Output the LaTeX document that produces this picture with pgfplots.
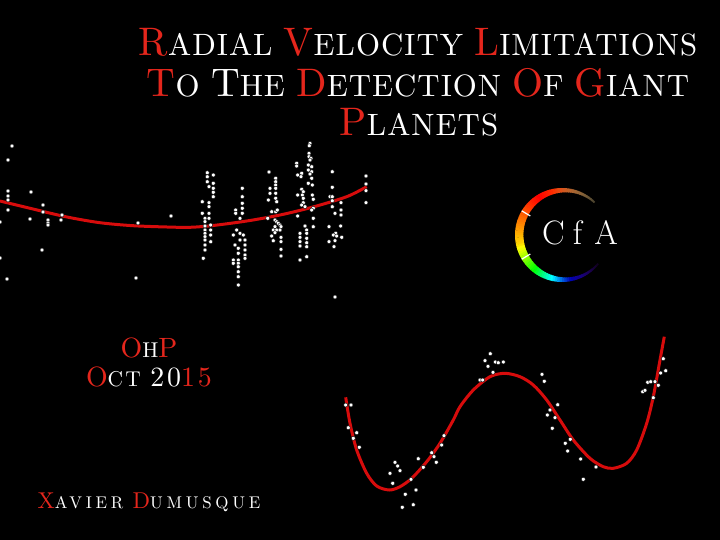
\documentclass[border=0pt]{standalone}
\usepackage{fontspec}
\newfontfamily\fA[LetterSpace=3.3]{lmroman10-regular.otf}
\newfontfamily\fB[LetterSpace=10.5]{lmroman10-regular.otf}
\newfontfamily\fC[LetterSpace=22]{lmroman10-regular.otf}
\usepackage{pgfplots}
\pgfplotsset{compat=1.18}
\definecolor{tred}{RGB}{228,38,28}
\definecolor{cred}{RGB}{215,12,12}
\newcommand\setsz[1]{\fontsize{#1}{#1}\selectfont}
\begin{document}
\begin{tikzpicture}
\path[use as bounding box, fill=black] (0,0) rectangle (720bp,540bp);
\begin{axis}[at={(0,0)}, anchor=south west, scale only axis, width=720bp, height=540bp,
  xmin=0, xmax=720, ymin=0, ymax=540, y dir=reverse, hide axis, clip=true]
% top curve
\addplot[cred, line width=3bp, smooth] coordinates {
(0,201) (33,209) (67,217) (100,222.7) (133,225.7) (167,227) (190,227.3) (213,225.5)
(246.7,221) (280,215) (313,207) (346.7,196.7) (366.7,186.7)};
% top scatter
\addplot[only marks, mark=*, mark size=2bp, mark options={fill=white, draw=none}] coordinates {
(12,146) (8,160) (8,191) (8,196) (8,200) (8,210) (31,192) (30,219) (43,205) (43,212)
(48,220) (48,223) (48,225) (62,215) (61,220) (42,250) (7,279) (0,222) (0,258)
(138,223) (136,278) (171,216) (335,297)
(207.3,172.7) (207.3,176.7) (213.3,175) (207.3,181.7) (209,186.7) (213.3,183.3) (213.3,188.3)
(213.3,192.3) (213.3,196.7) (202.3,201.7) (209,202.7) (209,206.7) (202.3,213.3) (205,218.3)
(209,213.3) (209,218.3) (205,221.7) (210.7,225) (205,226) (205,230) (205,233.3) (205,236.7)
(210.7,230) (210.7,235) (205,240) (205,245) (205,250) (210.7,241.7) (203.3,258.3)
(242.3,188.3) (235.7,210) (235.7,213.3) (242.3,196.7) (242.3,203.3) (242.3,208.3) (242.3,213.3)
(240,218.3) (236.7,230) (240,233.3) (243.3,235) (233.3,235) (245,240) (240,240) (235,245)
(245,245) (238.3,248.3) (245,250) (245,255) (238.3,253.3) (245,258.3) (233.3,260) (233.3,263.3)
(238.3,260) (238.3,263.3) (238.3,266.7) (238.3,271.7) (238.3,276.7) (238.3,285)
(269,172) (275.7,178.3) (275.7,181.7) (275.7,185) (275.7,188.3) (270,188.3) (270,193.3)
(275.7,193.3) (275.7,198.3) (268.3,200) (276.7,201.7) (271.7,211.7) (275.7,211.7) (277.3,210)
(267.7,218.3) (275,220) (276.7,221.7) (278.3,223.3) (280,225) (275,226.7) (281,226.7)
(273.3,230) (276.7,230) (280,230) (275,232.7) (271.7,236) (281,237.3) (273.3,240.7)
(281,241.7) (281,249.3) (281,256)
(310,143.3) (309.3,145.7) (296.7,163.3) (296.7,166) (309,153.3) (309,156.7) (311,158.3) (310,160)
(308.3,165) (311.7,166.7) (308.3,170) (311.7,171.7) (310,174) (297.7,175) (301.7,173.3)
(301,176.7) (311.7,178.3) (308.3,183.3) (312.3,185) (301.7,189.3) (303.3,191.7) (302.3,195)
(297.7,195) (312.3,195) (303.3,198.3) (313.3,199.3) (303.3,202.7) (301.7,205) (305,206.7)
(313.3,208.3) (311.7,210) (297.7,216) (313.3,218.3) (305,226) (313.3,226.7) (306.7,230)
(306.7,233.3) (300,233.3) (300,237.3) (306.7,238.3) (300,241.7) (306.7,242.7) (300,246)
(306.7,246.7) (300,260) (306.7,256.7)
(332.3,171.7) (332.3,187.3) (330,196.7) (332.3,196.7) (332.3,200.7) (341,202.7) (332.3,206.7)
(335,213.3) (341,210) (341,215) (329,226.7) (340.7,226) (335.7,233.3) (333.3,235) (336.7,236)
(341.7,237.3) (329,241.7) (335,240.7) (334,246.7)
(366,176) (366,184) (366,190.7) (366,202.7)};
% bottom curve
\addplot[cred, line width=3bp, smooth] coordinates {
(345.7,397.3) (350,423.3) (356.7,450) (366.7,473.3) (376.7,486) (389.3,490) (400,486.7)
(411.7,478.3) (426.7,461.7) (440,443.3) (453.3,420) (460,406.7) (473.3,390) (490,376.7)
(505,373.3) (520,376.7) (533.3,385) (546.7,400) (560,420) (573.3,440) (590,458.3)
(603.3,466.7) (613.3,468.3) (626.7,463.3) (636.7,450) (646.7,423.3) (653.3,396.7)
(660,360) (664.3,336.7)};
% bottom scatter
\addplot[only marks, mark=*, mark size=2bp, mark options={fill=white, draw=none}] coordinates {
(345.7,405) (351,405) (348.3,427.7) (356.7,432.7) (353.3,438.3) (359.3,447.3)
(390,473.3) (395,462.3) (397.7,466) (400,470.7) (392.7,483.3) (411,479.3) (405.3,494.3)
(416,490) (402.3,507.3) (413.3,504.7) (418.3,458.7) (423.3,467.3) (431.7,452.7) (434,456.7)
(436.3,462.3) (441.7,445) (444,435.7)
(480,380) (482.7,380) (485,360.7) (490.3,353.7) (488,366.3) (495.3,362) (498.3,362.7)
(503.3,362) (493,372.3)
(542,374.3) (544.3,381.3) (557.7,404.7) (550,410) (547.3,415) (555,417.7) (552.3,428.3)
(570.3,439.3) (565.3,443.3) (567.7,451) (580.7,459) (583.3,479.3) (596,467)
(642.7,391.7) (645,390.3) (647.7,382.3) (650.7,381.7) (655,381.7) (658.3,385.3)
(653.3,397.7) (660.7,373) (663.3,358.7) (665.7,370.7)};
\end{axis}
% CfA ring
\foreach \a in {45,48,...,320} {
  \pgfmathsetmacro\h{(\a<120 ? 42*(120-\a)/75 : (\a<190 ? (\a-120)*50/70 : (\a<230 ? 50+(\a-190)*1.75 : (\a<280 ? 120+(\a-230)*2.4 : 240+(\a-280)*0.75))))/360}
  \pgfmathsetmacro\bb{\a<100 ? 0.3+0.7*(\a-45)/55 : (\a>260 ? max(0.1,1-0.9*(\a-260)/60) : 1)}
  \pgfmathsetmacro\ss{\a<100 ? 0.4+0.6*(\a-45)/55 : 1}
  \pgfmathsetmacro\t{4.6-3.8*cos(\a)}
  \pgfmathsetmacro\r{47-\t/2}
  \definecolor{rc}{hsb}{\h,\ss,\bb}
  \draw[rc, line width=\t bp] ([shift={(\a:\r bp)}]562bp,305bp) arc[start angle=\a, end angle=\a+3.6, radius=\r bp];
}
\draw[white, line width=1.2bp] ([shift={(149:37bp)}]562bp,305bp) -- ([shift={(149:47bp)}]562bp,305bp);
\draw[white, line width=1.2bp] ([shift={(211:37bp)}]562bp,305bp) -- ([shift={(211:47bp)}]562bp,305bp);
\begin{scope}[x=1bp, y=-1bp, shift={(0,540bp)}]
\node[anchor=base, text=white, inner sep=0, font=\setsz{34}] at (553.5,245) {C};
\node[anchor=base, text=white, inner sep=0, font=\setsz{34}] at (577.5,245) {f};
\node[anchor=base, text=white, inner sep=0, font=\setsz{34}] at (606,245) {A};
% title
\node[anchor=base, text=white, inner sep=0, font=\fA\setsz{31}] at (418,56)
  {{\color{tred}\setsz{40}R}ADIAL {\color{tred}\setsz{40}V}ELOCITY {\color{tred}\setsz{40}L}IMITATIONS};
\node[anchor=base, text=white, inner sep=0, font=\fA\setsz{31}] at (418,97)
  {{\color{tred}\setsz{40}T}O {\setsz{40}T}HE {\color{tred}\setsz{40}D}ETECTION {\color{tred}\setsz{40}O}F {\color{tred}\setsz{40}G}IANT};
\node[anchor=base, text=white, inner sep=0, font=\fA\setsz{31}] at (419,136)
  {{\color{tred}\setsz{40}P}LANETS};
% OHP
\node[anchor=base, text=white, inner sep=0, font=\fB\setsz{21.5}] at (149,358)
  {{\color{tred}\setsz{28}O}H{\color{tred}\setsz{28}P}};
\node[anchor=base, text=white, inner sep=0, font=\fB\setsz{21.5}] at (149,387)
  {{\color{tred}\setsz{28}O}CT {\setsz{28}20}{\color{tred}\setsz{28}15}};
% author
\node[anchor=base, text=white, inner sep=0, font=\fC\setsz{17}] at (149,509)
  {{\color{tred}\setsz{23}X}AVIER {\color{tred}\setsz{23}D}UMUSQUE};
\end{scope}
\end{tikzpicture}
\end{document}
